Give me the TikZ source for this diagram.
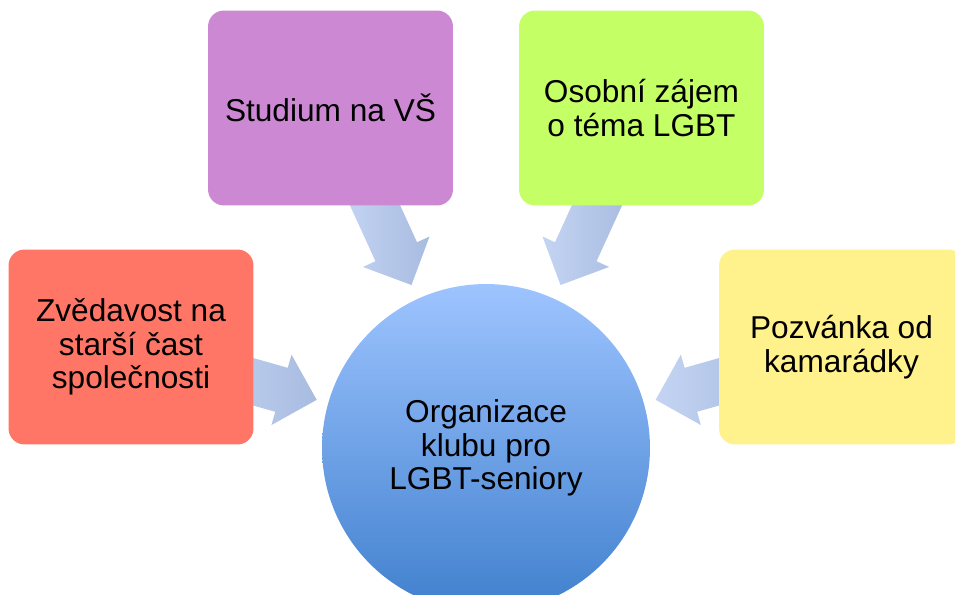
\documentclass[tikz,border=0pt]{standalone}
\usepackage{fontspec}
\setmainfont{Liberation Sans}
\usetikzlibrary{shapes.arrows,calc,backgrounds}

\definecolor{studfill}{RGB}{205,136,212}
\definecolor{zajemfill}{RGB}{196,255,102}
\definecolor{zvedfill}{RGB}{255,118,102}
\definecolor{pozvfill}{RGB}{255,241,140}
\definecolor{feedtop}{RGB}{196,212,243}
\definecolor{feedbot}{RGB}{168,188,224}
\definecolor{orgtop}{RGB}{158,196,255}
\definecolor{orgbot}{RGB}{64,128,206}

\begin{document}
\begin{tikzpicture}[x=0.02cm, y=-0.02cm,
    reason/.style={rounded corners=0.32cm, minimum width=4.9cm, minimum height=3.9cm,
      inner sep=0, align=center, font=\fontsize{18}{19}\selectfont},
    feed/.style={single arrow, single arrow head extend=0.275cm, inner xsep=0,
      inner ysep=0.45cm, minimum height=2.32cm, left color=feedtop, right color=feedbot}]
  \useasboundingbox (0,0) rectangle (955,594);
  \clip (0,0) rectangle (955,594);
  % centre
  \node[circle, minimum size=6.56cm, inner sep=0, top color=orgtop, bottom color=orgbot,
    align=center, font=\fontsize{18}{19}\selectfont] (org) at (486,448)
    {Organizace\\klubu pro\\LGBT-seniory};
  % reasons
  \node[reason, fill=studfill] (stud) at (330.5,108) {Studium na VŠ};
  \node[reason, fill=zajemfill] (zajem) at (641.5,108) {Osobní zájem\\o téma LGBT};
  \node[reason, fill=zvedfill] (zved) at (131,347) {Zvědavost na\\starší čast\\společnosti};
  \node[reason, fill=pozvfill] (pozv) at (841.5,347) {Pozvánka od\\kamarádky};
  % arrows behind the boxes
  \begin{pgfonlayer}{background}
    \foreach \from in {stud, zajem, zved, pozv}
      \path let \p1=($(org)-(\from)$), \n1={atan2(\y1,\x1)} in
        ($(\from)!0.335!(org)$) node[feed, rotate=\n1] {};
  \end{pgfonlayer}
\end{tikzpicture}
\end{document}
